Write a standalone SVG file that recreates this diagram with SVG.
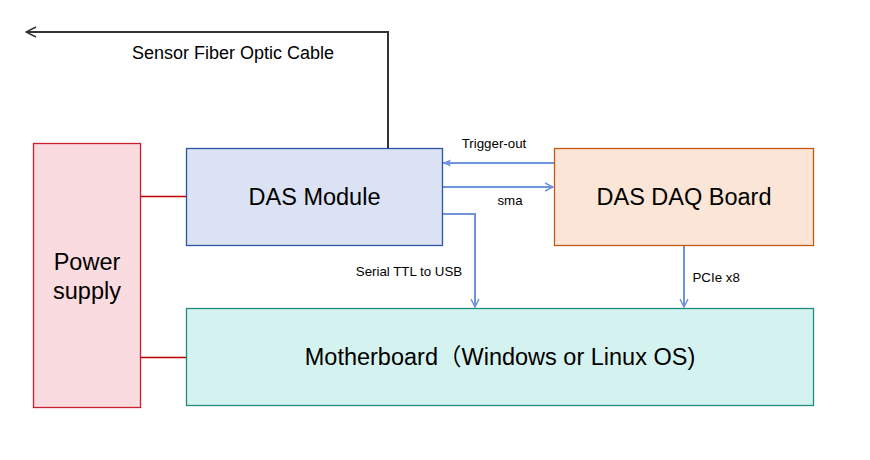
<svg xmlns="http://www.w3.org/2000/svg" width="870" height="460" viewBox="0 0 870 460">
<style>
text{font-family:"Liberation Sans",Arial,"Noto Sans CJK SC",sans-serif;fill:#000}
.big{font-size:23.5px;text-anchor:middle}
.lbl{font-size:13.3px}
.blue{stroke:#7093dc;stroke-width:2;fill:none}
.red{stroke:#c00000;stroke-width:1.3;fill:none}
</style>
<defs>
<marker id="open" viewBox="0 0 10 10" refX="9" refY="5" markerWidth="10" markerHeight="10" markerUnits="userSpaceOnUse" orient="auto">
<path d="M1,1 L9,5 L1,9" fill="none" stroke="#7093dc" stroke-width="1.5"/>
</marker>
<marker id="openBlack" viewBox="0 0 12 12" refX="11" refY="6" markerWidth="12" markerHeight="12" markerUnits="userSpaceOnUse" orient="auto">
<path d="M1,1 L11,6 L1,11" fill="none" stroke="#333" stroke-width="1.5"/>
</marker>
<marker id="block" viewBox="0 0 10 10" refX="9" refY="5" markerWidth="9" markerHeight="9" markerUnits="userSpaceOnUse" orient="auto">
<path d="M0,1 L10,5 L0,9 L2,5 Z" fill="#7093dc"/>
</marker>
</defs>
<rect width="870" height="460" fill="#fff"/>
<g id="connectors">
<path d="M388,148 V32 H26" fill="none" stroke="#333" stroke-width="2" marker-end="url(#openBlack)"/>
<path class="blue" d="M554,163 H443" marker-end="url(#block)"/>
<path class="blue" d="M443,187 H553" marker-end="url(#open)"/>
<path class="blue" d="M443,214 H475 V307" marker-end="url(#open)"/>
<path class="blue" d="M684,246 V307" marker-end="url(#open)"/>
<path class="red" d="M141,196.5 H186"/>
<path class="red" d="M141,357.5 H186"/>
<text x="233" y="58.5" style="font-size:18px;text-anchor:middle">Sensor Fiber Optic Cable</text>
<text class="lbl" x="494" y="147.5" text-anchor="middle">Trigger-out</text>
<text class="lbl" x="510" y="205" text-anchor="middle">sma</text>
<text class="lbl" x="409" y="276" text-anchor="middle">Serial TTL to USB</text>
<text class="lbl" x="692.5" y="281.5">PCIe x8</text>
</g>
<g id="power">
<rect x="33.5" y="143.5" width="107" height="264" fill="#fadbdf" stroke="#cc1f2f" stroke-width="1.3"/>
<text class="big" x="87" y="270">Power</text>
<text class="big" x="87" y="299">supply</text>
</g>
<g id="das-module">
<rect x="186.5" y="148.5" width="256" height="97" fill="#dae2f4" stroke="#2c55a6" stroke-width="1.3"/>
<text class="big" x="314.5" y="205">DAS Module</text>
</g>
<g id="daq-board">
<rect x="554.5" y="148.5" width="259" height="97" fill="#fbe5d6" stroke="#c55a11" stroke-width="1.3"/>
<text class="big" x="684" y="205">DAS DAQ Board</text>
</g>
<g id="motherboard">
<rect x="186.5" y="308.5" width="627" height="97" fill="#d4f3f0" stroke="#1e8c7e" stroke-width="1.3"/>
<text class="big" x="500" y="365">Motherboard（Windows or Linux OS)</text>
</g>
</svg>
